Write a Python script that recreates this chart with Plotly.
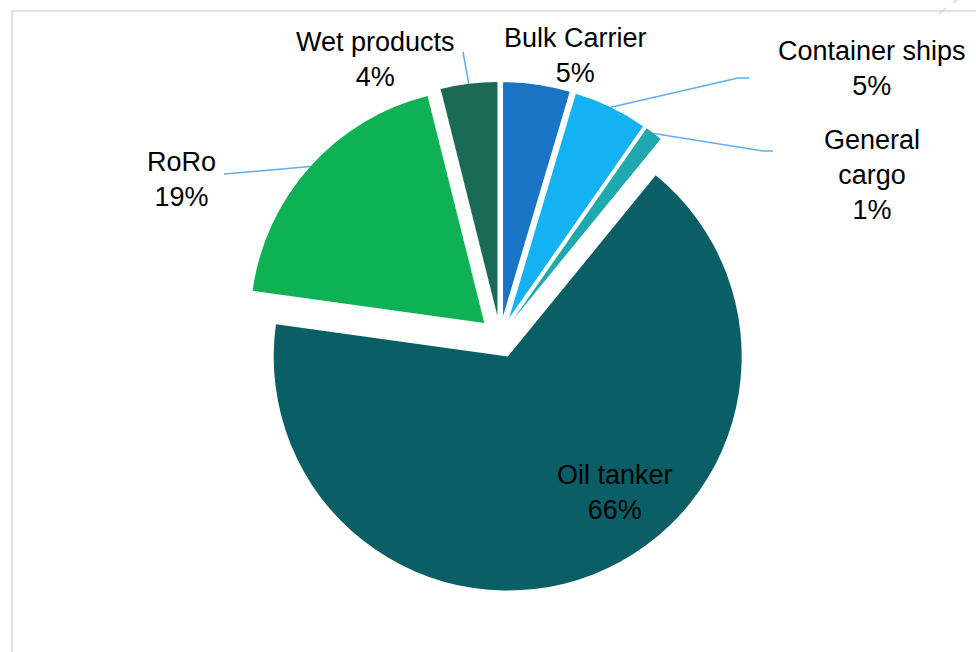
import math
import plotly.graph_objects as go

# Share of calls by ship type (%)
categories = ["Bulk Carrier", "Container ships", "General cargo", "Oil tanker", "RoRo", "Wet products"]
shares = [4.6, 5.1, 1.2, 66.3, 18.9, 3.9]
display_names = ["Bulk Carrier", "Container ships", "General<br>cargo", "Oil tanker", "RoRo", "Wet products"]
slice_colors = ["#1A74C5", "#14B2F2", "#1FA8AE", "#0A5F67", "#0EB153", "#1B6957"]

W, H = 976, 652
CX, CY, R = 500, 337, 234          # pie centre and radius in pixels
PULL = 0.09                         # every slice is exploded by the same amount


def to_paper(x, y):
    return x / W, 1 - y / H


half = R * (1 + PULL)
domain_x = [(CX - half) / W, (CX + half) / W]
domain_y = [1 - (CY + half) / H, 1 - (CY - half) / H]

fig = go.Figure(
    go.Pie(
        labels=categories,
        values=shares,
        sort=False,
        direction="clockwise",
        rotation=0,
        pull=[PULL] * len(shares),
        marker=dict(colors=slice_colors, line=dict(width=0)),
        textinfo="none",
        hoverinfo="label+percent",
        showlegend=False,
        domain=dict(x=domain_x, y=domain_y),
    )
)

# label placement (pixel centre) and leader-line route for each category
label_pos = {
    "Bulk Carrier": (575, 56, None),
    "Container ships": (872, 69, [(738, 78), (749, 78)]),
    "General cargo": (872, 175, [(763, 151), (773, 151)]),
    "Oil tanker": (615, 492, None),
    "RoRo": (181, 180, [(236, 173), (224, 174)]),
    "Wet products": (375, 59, [(463, 52)]),
}

total = sum(shares)
annotations = []
shapes = []
cum = 0.0
for name, disp, v in zip(categories, display_names, shares):
    frac_mid = (cum + v / 2) / total
    cum += v
    theta = 2 * math.pi * frac_mid
    dx, dy = math.sin(theta), -math.cos(theta)
    # slice apex after pulling, and point on the outer arc at the bisector
    ax0, ay0 = CX + PULL * R * dx, CY + PULL * R * dy
    arc_x, arc_y = ax0 + R * dx, ay0 + R * dy

    pct = round(v / total * 100)
    lx, ly, route = label_pos[name]
    px, py = to_paper(lx, ly)
    annotations.append(dict(
        x=px, y=py, xref="paper", yref="paper",
        text=f"{disp}<br>{pct}%", showarrow=False,
        xanchor="center", yanchor="middle", align="center",
        font=dict(family="Liberation Sans, Arial, sans-serif", size=27, color="#000000"),
    ))
    if route:
        pts = [(arc_x, arc_y)] + route
        path = "M " + " L ".join(
            f"{to_paper(x, y)[0]:.5f},{to_paper(x, y)[1]:.5f}" for x, y in pts
        )
        shapes.append(dict(type="path", xref="paper", yref="paper", path=path,
                           line=dict(color="#5EAEF5", width=1.5)))

# chart-area frame
x0, y0 = to_paper(12, 11)
x1, y1 = to_paper(1000, 700)
shapes.append(dict(type="rect", xref="paper", yref="paper", x0=x0, y0=y1, x1=x1, y1=y0,
                   line=dict(color="#D9D9D9", width=1.5), fillcolor="rgba(0,0,0,0)", layer="below"))
# faint dashed connector peeking in at the top-right corner
dx0, dy0 = to_paper(939, 14)
dx1, dy1 = to_paper(962, -4)
shapes.append(dict(type="line", xref="paper", yref="paper", x0=dx0, y0=dy0, x1=dx1, y1=dy1,
                   line=dict(color="#BFDDF5", width=1.5, dash="dash")))

fig.update_layout(
    width=W, height=H,
    margin=dict(l=0, r=0, t=0, b=0),
    paper_bgcolor="#FFFFFF",
    plot_bgcolor="#FFFFFF",
    annotations=annotations,
    shapes=shapes,
)

fig.write_html("out.html")
